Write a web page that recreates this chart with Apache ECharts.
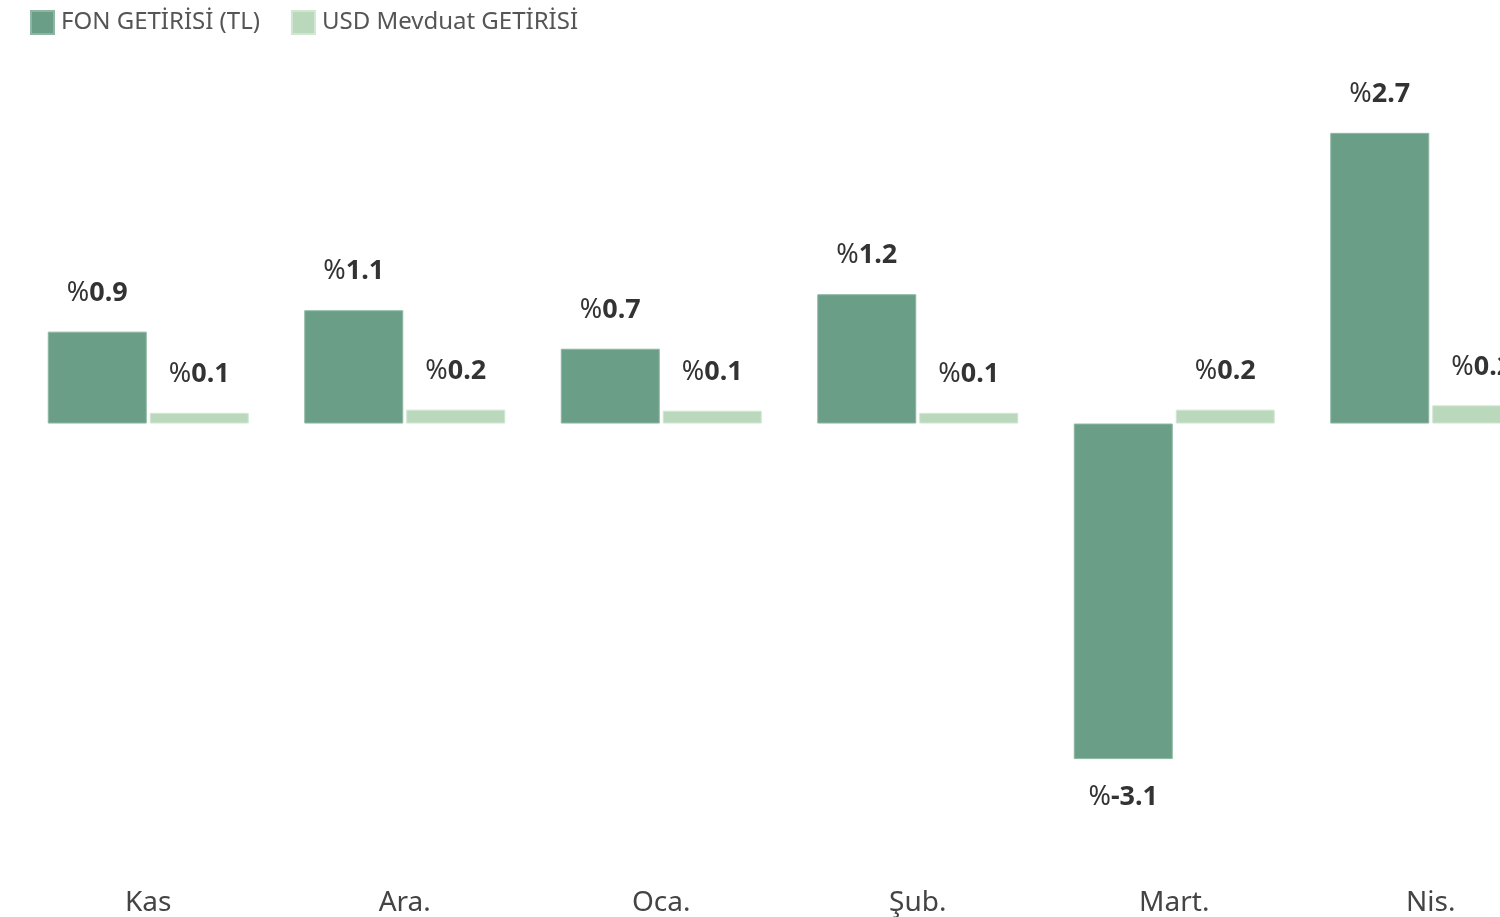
<!DOCTYPE html>
<html>
<head>
<meta charset="utf-8">
<title>Fon getirisi</title>
<script src="https://cdn.jsdelivr.net/npm/echarts@6/dist/echarts.min.js"></script>
<style>
    html, body { margin: 0; padding: 0; background: #fff; overflow: hidden; }
    #main { width: 1580px; height: 917px; }
</style>
</head>
<body>
<div id="main"></div>
<script type="text/javascript">
    // aylar ve getiriler (%)
    var months = ['Kas', 'Ara.', 'Oca.', 'Şub.', 'Mart.', 'Nis.'];
    var fonValues = [0.86, 1.06, 0.70, 1.21, -3.14, 2.72];
    var usdValues = [0.10, 0.13, 0.12, 0.10, 0.13, 0.17];
    var fonLabels = ['0.9', '1.1', '0.7', '1.2', '-3.1', '2.7'];
    var usdLabels = ['0.1', '0.2', '0.1', '0.1', '0.2', '0.2'];

    var fontName = 'Noto Sans';

    var labelRich = {
        p: { fontFamily: fontName, fontSize: 27, fontWeight: 'normal', color: '#333' },
        v: { fontFamily: fontName, fontSize: 27, fontWeight: 'bold', color: '#333' }
    };

    function buildData(values, labels) {
        return values.map(function (v, i) {
            return {
                value: v,
                label: {
                    position: v < 0 ? 'bottom' : 'top',
                    formatter: '{p|%}{v|' + labels[i] + '}'
                }
            };
        });
    }

    var chart = echarts.init(document.getElementById('main'));

    var option = {
        animation: false,
        legend: {
            left: 25,
            top: 5,
            itemWidth: 23,
            itemHeight: 23,
            itemGap: 31,
            icon: 'rect',
            textStyle: { fontFamily: fontName, fontSize: 24, color: '#555', padding: [0, 0, 0, 2] },
            data: ['FON GETİRİSİ (TL)', 'USD Mevduat GETİRİSİ']
        },
        grid: { left: 20, right: 21, top: 49.5, bottom: 65.5 },
        xAxis: {
            type: 'category',
            data: months,
            axisLine: { show: false },
            axisTick: { show: false },
            axisLabel: { fontFamily: fontName, fontSize: 28, color: '#444', margin: 38 }
        },
        yAxis: {
            type: 'value',
            min: -4,
            max: 3.5,
            show: false,
            splitLine: { show: false }
        },
        series: [{
            name: 'FON GETİRİSİ (TL)',
            type: 'bar',
            barWidth: 99,
            barGap: '3%',
            itemStyle: { color: '#6a9e87', borderColor: '#8db7a4', borderWidth: 1 },
            label: { show: true, distance: 25, rich: labelRich },
            data: buildData(fonValues, fonLabels)
        }, {
            name: 'USD Mevduat GETİRİSİ',
            type: 'bar',
            barWidth: 99,
            itemStyle: { color: '#bad8bb', borderColor: '#d2e6d2', borderWidth: 1 },
            label: { show: true, distance: 25, rich: labelRich },
            data: buildData(usdValues, usdLabels)
        }]
    };

    chart.setOption(option);
</script>
</body>
</html>
